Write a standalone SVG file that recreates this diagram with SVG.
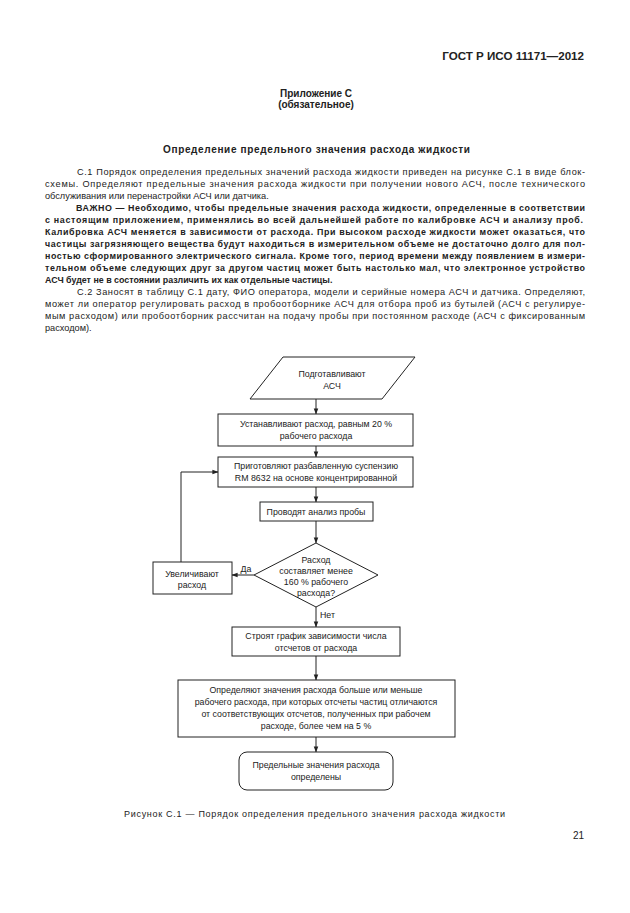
<svg xmlns="http://www.w3.org/2000/svg" width="630" height="913" viewBox="0 0 630 913">
<defs>
<marker id="ah" viewBox="0 0 8 8" refX="7.5" refY="4" markerWidth="6" markerHeight="6" orient="auto" markerUnits="userSpaceOnUse">
<path d="M0,1 L8,4 L0,7 Z" fill="#222"/>
</marker>
<style>
text{font-family:"Liberation Sans",Arial,sans-serif;fill:#222}
.p{font-size:9.2px}
.b{font-weight:bold;font-size:8.9px}
.f{font-size:8.8px;text-anchor:middle}
.shape{fill:#fff;stroke:#222;stroke-width:1}
.ln{fill:none;stroke:#222;stroke-width:1}
</style>
</defs>
<rect width="630" height="913" fill="#fff"/>
<text x="584" y="60" font-weight="bold" font-size="11.6" text-anchor="end">ГОСТ Р ИСО 11171—2012</text>
<text x="316" y="97" font-weight="bold" font-size="10" text-anchor="middle">Приложение С</text>
<text x="316" y="108" font-weight="bold" font-size="10" text-anchor="middle">(обязательное)</text>
<text x="163" y="153" font-weight="bold" font-size="10" textLength="307" lengthAdjust="spacing">Определение предельного значения расхода жидкости</text>
<g class="p">
<text x="77" y="175" textLength="508" lengthAdjust="spacing">С.1 Порядок определения предельных значений расхода жидкости приведен на рисунке С.1 в виде блок-</text>
<text x="45" y="187" textLength="540" lengthAdjust="spacing">схемы. Определяют предельные значения расхода жидкости при получении нового АСЧ, после технического</text>
<text x="45" y="199">обслуживания или перенастройки АСЧ или датчика.</text>
<text x="76" y="211" class="b" textLength="509" lengthAdjust="spacing">ВАЖНО — Необходимо, чтобы предельные значения расхода жидкости, определенные в соответствии</text>
<text x="45" y="223" class="b" textLength="538" lengthAdjust="spacing">с настоящим приложением, применялись во всей дальнейшей работе по калибровке АСЧ и анализу проб.</text>
<text x="45" y="235" class="b" textLength="540" lengthAdjust="spacing">Калибровка АСЧ меняется в зависимости от расхода. При высоком расходе жидкости может оказаться, что</text>
<text x="45" y="247" class="b" textLength="540" lengthAdjust="spacing">частицы загрязняющего вещества будут находиться в измерительном объеме не достаточно долго для пол-</text>
<text x="45" y="259" class="b" textLength="540" lengthAdjust="spacing">ностью сформированного электрического сигнала. Кроме того, период времени между появлением в измери-</text>
<text x="45" y="271" class="b" textLength="540" lengthAdjust="spacing">тельном объеме следующих друг за другом частиц может быть настолько мал, что электронное устройство</text>
<text x="45" y="283" class="b">АСЧ будет не в состоянии различить их как отдельные частицы.</text>
<text x="77" y="295" textLength="508" lengthAdjust="spacing">С.2 Заносят в таблицу С.1 дату, ФИО оператора, модели и серийные номера АСЧ и датчика. Определяют,</text>
<text x="45" y="307" textLength="540" lengthAdjust="spacing">может ли оператор регулировать расход в пробоотборнике АСЧ для отбора  проб из бутылей (АСЧ с регулируе-</text>
<text x="45" y="319" textLength="540" lengthAdjust="spacing">мым расходом) или пробоотборник рассчитан на подачу пробы при постоянном расходе (АСЧ с фиксированным</text>
<text x="45" y="331">расходом).</text>
</g>
<g id="connectors">
<line class="ln" x1="316" y1="399" x2="316" y2="414" marker-end="url(#ah)"/>
<line class="ln" x1="316" y1="446" x2="316" y2="457" marker-end="url(#ah)"/>
<line class="ln" x1="316" y1="487" x2="316" y2="502" marker-end="url(#ah)"/>
<line class="ln" x1="316" y1="521" x2="316" y2="543" marker-end="url(#ah)"/>
<line class="ln" x1="254" y1="575" x2="232" y2="575" marker-end="url(#ah)"/>
<polyline class="ln" points="181,562 181,472 218,472" marker-end="url(#ah)"/>
<line class="ln" x1="316" y1="607" x2="316" y2="627" marker-end="url(#ah)"/>
<line class="ln" x1="316" y1="656" x2="316" y2="680" marker-end="url(#ah)"/>
<line class="ln" x1="316" y1="737" x2="316" y2="752" marker-end="url(#ah)"/>
<text x="246" y="572" class="f">Да</text>
<text x="320" y="618" font-size="8.8">Нет</text>
</g>
<g id="n1">
<polygon class="shape" points="283,357 415,357 382,399 250,399"/>
<text x="332" y="377" class="f">Подготавливают</text>
<text x="332" y="389" class="f">АСЧ</text>
</g>
<g id="n2">
<rect class="shape" x="218" y="414" width="195" height="32"/>
<text x="316" y="427" class="f">Устанавливают расход, равным 20 %</text>
<text x="316" y="439" class="f">рабочего расхода</text>
</g>
<g id="n3">
<rect class="shape" x="218" y="457" width="195" height="30"/>
<text x="316" y="469" class="f">Приготовляют разбавленную суспензию</text>
<text x="316" y="481" class="f">RM 8632 на основе концентрированной</text>
</g>
<g id="n4">
<rect class="shape" x="260" y="502" width="113" height="19"/>
<text x="316" y="515" class="f">Проводят анализ пробы</text>
</g>
<g id="n5">
<polygon class="shape" points="316,543 378,575 316,607 254,575"/>
<text x="316" y="563" class="f">Расход</text>
<text x="316" y="574" class="f">составляет менее</text>
<text x="316" y="585" class="f">160 % рабочего</text>
<text x="316" y="596" class="f">расхода?</text>
</g>
<g id="n6">
<rect class="shape" x="153" y="562" width="79" height="32"/>
<text x="192" y="577" class="f">Увеличивают</text>
<text x="192" y="588" class="f">расход</text>
</g>
<g id="n7">
<rect class="shape" x="232" y="627" width="168" height="29"/>
<text x="316" y="639" class="f">Строят график зависимости числа</text>
<text x="316" y="651" class="f">отсчетов от расхода</text>
</g>
<g id="n8">
<rect class="shape" x="178" y="680" width="277" height="57"/>
<text x="316" y="693" class="f">Определяют значения расхода больше или меньше</text>
<text x="316" y="705" class="f">рабочего расхода, при которых отсчеты частиц отличаются</text>
<text x="316" y="717" class="f">от соответствующих отсчетов, полученных при рабочем</text>
<text x="316" y="729" class="f">расходе, более чем на 5 %</text>
</g>
<g id="n9">
<rect class="shape" x="239" y="752" width="154" height="38" rx="8"/>
<text x="316" y="768" class="f">Предельные значения расхода</text>
<text x="316" y="780" class="f">определены</text>
</g>
<text x="124" y="817" font-size="9" textLength="381" lengthAdjust="spacing">Рисунок С.1 — Порядок определения предельного значения расхода жидкости</text>
<text x="584" y="839" font-size="10" text-anchor="end">21</text>
</svg>
